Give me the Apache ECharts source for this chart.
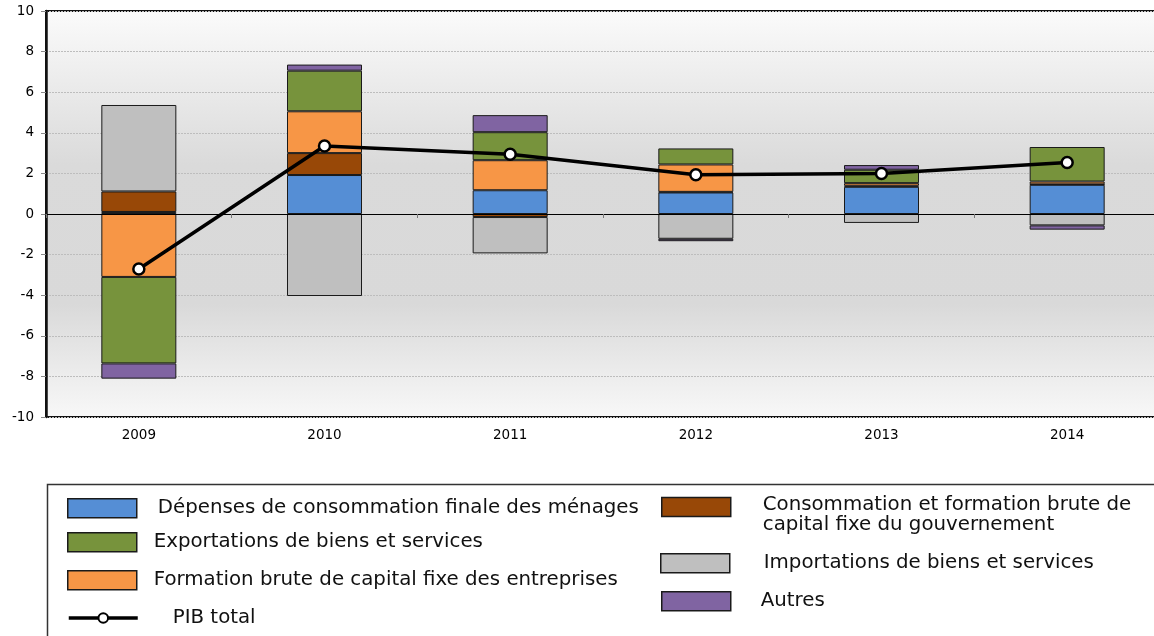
<!DOCTYPE html>
<html>
<head>
<meta charset="utf-8">
<script src="https://cdn.jsdelivr.net/npm/echarts@6/dist/echarts.min.js"></script>
<style>
html,body{margin:0;padding:0;background:#fff;}
#c{width:1154px;height:636px;}
</style>
</head>
<body>
<div id="c"></div>
<script>
const years = ['2009','2010','2011','2012','2013','2014'];
const menages = [0.10, 1.92, 1.17, 1.06, 1.34, 1.44];
const gouvernement = [1.01, 1.08, -0.15, 0.03, 0.05, 0.02];
const entreprises = [-3.10, 2.06, 1.48, 1.35, 0.13, 0.14];
const exportations = [-4.26, 2.00, 1.38, 0.79, 0.66, 1.70];
const importations = [4.26, -4.04, -1.79, -1.22, -0.44, -0.56];
const autres = [-0.75, 0.30, 0.84, -0.12, 0.23, -0.21];
const pib = [-2.71, 3.35, 2.94, 1.93, 2.00, 2.54];
const yTicks = {min: -10, max: 10, step: 2};

const N_MEN = 'Dépenses de consommation finale des ménages';
const N_GOV = 'Consommation et formation brute de capital fixe du gouvernement';
const N_ENT = 'Formation brute de capital fixe des entreprises';
const N_EXP = 'Exportations de biens et services';
const N_IMP = 'Importations de biens et services';
const N_AUT = 'Autres';
const N_PIB = 'PIB total';

const FONT = 'DejaVu Sans';
const LFS = 19.8;
const chart = echarts.init(document.getElementById('c'), null, {renderer: 'canvas'});

function barSeries(name, data, color) {
  return {
    name, type: 'bar', stack: 'total', data,
    barWidth: 75,
    xAxisIndex: 0,
    itemStyle: {color, borderColor: '#1a1a1a', borderWidth: 1},
    emphasis: {disabled: true},
    z: 3
  };
}

function leg(name, left, top, padLeft, extra) {
  return Object.assign({
    data: [{name, icon: 'rect'}], left, top, orient: 'vertical',
    padding: 0,
    itemWidth: 69, itemHeight: 19,
    selectedMode: false,
    textStyle: {fontFamily: FONT, fontSize: LFS, color: '#111', padding: [0, 0, 0, padLeft]},
    itemStyle: {borderColor: '#1a1a1a', borderWidth: 1.5}
  }, extra || {});
}

chart.setOption({
  animation: false,
  textStyle: {fontFamily: FONT},
  grid: {
    left: 46, width: 1114, top: 11, bottom: 219,
    outerBoundsMode: 'none',
    show: true,
    borderColor: '#111', borderWidth: 2,
    backgroundColor: {
      type: 'linear', x: 0, y: 0, x2: 0, y2: 1,
      colorStops: [
        {offset: 0, color: '#fbfbfb'},
        {offset: 0.38, color: '#dadada'},
        {offset: 0.72, color: '#d9d9d9'},
        {offset: 1, color: '#f8f8f8'}
      ]
    }
  },
  xAxis: [
    {
      type: 'category', data: years,
      axisLine: {onZero: true, lineStyle: {color: '#000', width: 1.2}},
      axisTick: {show: true, length: 4, lineStyle: {color: '#777'}},
      axisLabel: {show: false},
      z: 4
    },
    {
      type: 'category', data: years, position: 'bottom',
      axisLine: {show: false, onZero: false},
      axisTick: {show: false},
      axisLabel: {show: true, fontFamily: FONT, fontSize: 13.5, color: '#000', margin: 11}
    }
  ],
  yAxis: {
    type: 'value', min: yTicks.min, max: yTicks.max, interval: yTicks.step,
    axisLine: {show: true, lineStyle: {color: '#111', width: 2.5}},
    axisTick: {show: true, length: 5, lineStyle: {color: '#888'}},
    axisLabel: {fontFamily: FONT, fontSize: 13.5, color: '#000', margin: 12},
    splitLine: {show: true, lineStyle: {color: '#bdbdbd', type: [2, 1], width: 1}}
  },
  legend: [
    leg(N_MEN, 67, 498, 16),
    leg(N_EXP, 67, 532, 12),
    leg(N_ENT, 67, 570, 12),
    Object.assign(leg(N_PIB, 67, 608, 30), {
      data: [{name: N_PIB}],
      itemHeight: 12,
      lineStyle: {width: 3.5, color: '#000'},
      itemStyle: {color: '#fff', borderColor: '#000', borderWidth: 2}
    }),
    leg(N_GOV, 661, 483, 27, {
      formatter: () => '{s| }\n{t|Consommation et formation brute de}\n{t|capital fixe du gouvernement}',
      textStyle: {
        fontFamily: FONT, fontSize: LFS, color: '#111', padding: [0, 0, 0, 27],
        rich: {
          s: {fontSize: 8, lineHeight: 15, fontFamily: FONT},
          t: {fontSize: LFS, lineHeight: 20, fontFamily: FONT, color: '#111'}
        }
      }
    }),
    leg(N_IMP, 660, 553, 29),
    leg(N_AUT, 661, 591, 25)
  ],
  graphic: [
    {
      type: 'rect', left: 45, top: 482,
      shape: {width: 1130, height: 170},
      style: {fill: 'none', stroke: '#333', lineWidth: 1.5},
      silent: true
    }
  ],
  series: [
    barSeries(N_MEN, menages, '#558ED5'),
    barSeries(N_GOV, gouvernement, '#984807'),
    barSeries(N_ENT, entreprises, '#F79646'),
    barSeries(N_EXP, exportations, '#77933C'),
    barSeries(N_IMP, importations, '#BFBFBF'),
    barSeries(N_AUT, autres, '#8064A2'),
    {
      name: N_PIB, type: 'line', data: pib, xAxisIndex: 0,
      symbol: 'circle', symbolSize: 11,
      lineStyle: {color: '#000', width: 3.5},
      itemStyle: {color: '#fff', borderColor: '#000', borderWidth: 2.5},
      emphasis: {disabled: true},
      z: 10
    }
  ]
});
</script>
</body>
</html>
